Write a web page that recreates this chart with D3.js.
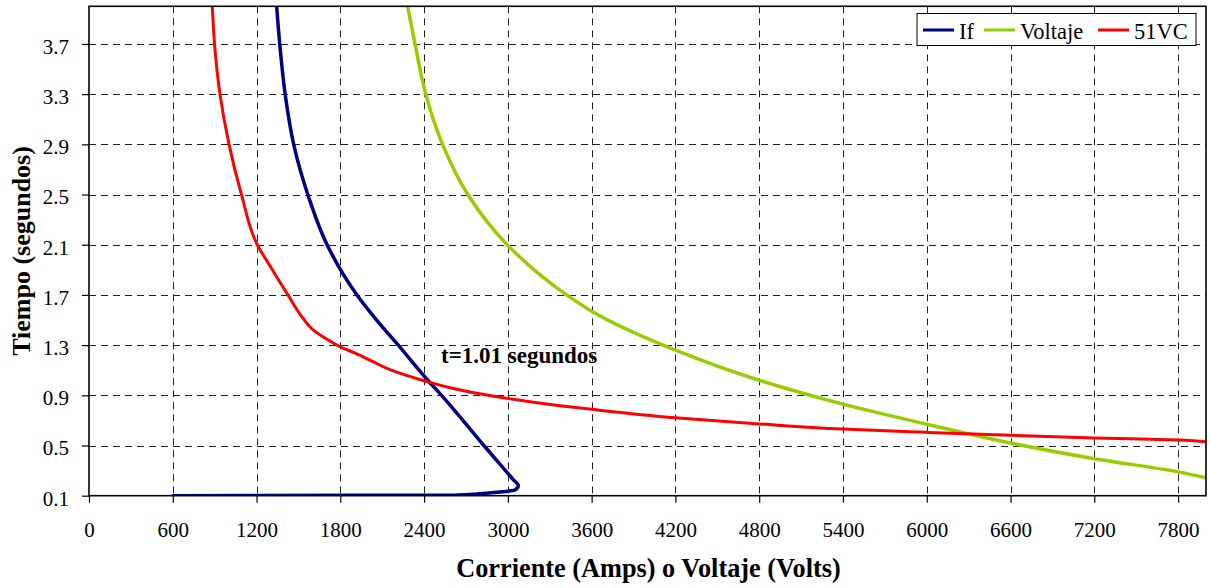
<!DOCTYPE html>
<html><head><meta charset="utf-8">
<script src="https://cdn.jsdelivr.net/npm/d3@7"></script>
<style>
body{margin:0;background:#fff}
svg{display:block}
text{font-family:"Liberation Serif","Times New Roman",serif;fill:#000}
</style>
</head><body>
<svg id="chart" width="1210" height="588"></svg>
<script>
// ---- data ----
const xTicks = [0,600,1200,1800,2400,3000,3600,4200,4800,5400,6000,6600,7200,7800];
const yTicks = [0.1,0.5,0.9,1.3,1.7,2.1,2.5,2.9,3.3,3.7];
const seriesNames = ["If","Voltaje","51VC"];
const seriesColors = ["#000080","#99CC00","#FF0000"];

const ifCurrent = [1344,1366,1405,1466,1567,1705,1919,2060,2215,2430,2525,2828,3037,3075,3050,2920,2777,2633,600];
const ifTime    = [4.0,3.7,3.3,2.9,2.5,2.1,1.7,1.5,1.3,1.016,0.9,0.5,0.23,0.18,0.145,0.127,0.114,0.105,0.1];

const voltValue = [2282,2335,2412,2532,2713,2995,3421,3600,4200,4800,5400,6000,6600,7200,7800,8000];
const voltTime  = [4.0,3.7,3.3,2.9,2.5,2.1,1.7,1.57,1.26,1.02,0.83,0.67,0.52,0.395,0.29,0.243];

const relCurrent = [883,899,938,1003,1092,1205,1300,1425,1525,1607,1730,1810,1910,2030,2165,2406,2657,2991,3373,3600,4200,4800,5400,6000,6600,7200,7800,8000];
const relTime    = [4.0,3.7,3.3,2.9,2.5,2.1,1.925,1.7,1.526,1.42,1.33,1.28,1.235,1.17,1.10,1.014,0.942,0.876,0.817,0.788,0.721,0.672,0.631,0.605,0.581,0.56,0.544,0.53];

const annotationText = "t=1.01 segundos";
const xTitle = "Corriente (Amps) o Voltaje (Volts)";
const yTitle = "Tiempo (segundos)";

// ---- layout ----
const L = 89, R = 1206, T = 6.3, B = 495.7;
const svg = d3.select("#chart");
const x = d3.scaleLinear().domain([0,8000]).range([L,R]);
const y = d3.scaleLinear().domain([0.1,4.0]).range([B,T]);

// gridlines
const grid = svg.append("g").attr("stroke","#222").attr("stroke-width",1).attr("stroke-dasharray","7,5");
grid.selectAll("line.v").data(xTicks.filter(d=>d>0)).join("line")
  .attr("x1",d=>Math.round(x(d))+0.5).attr("x2",d=>Math.round(x(d))+0.5)
  .attr("y1",T).attr("y2",B);
grid.selectAll("line.h").data(yTicks.filter(d=>d>0.1)).join("line")
  .attr("y1",d=>Math.round(y(d))+0.5).attr("y2",d=>Math.round(y(d))+0.5)
  .attr("x1",L).attr("x2",R);

// axes
const yAxis = svg.append("g").attr("transform",`translate(${L},0)`)
  .call(d3.axisLeft(y).tickValues(yTicks).tickSize(7).tickPadding(13).tickFormat(d3.format(".1f")));
const xAxis = svg.append("g").attr("transform",`translate(0,${B})`)
  .call(d3.axisBottom(x).tickValues(xTicks).tickSize(7).tickPadding(19).tickFormat(d3.format("d")));
[xAxis,yAxis].forEach(g=>{
  g.select(".domain").remove();
  g.selectAll(".tick line").attr("stroke","#000").attr("stroke-width",1.2);
  g.selectAll(".tick text").attr("font-family","Liberation Serif").attr("font-size",21).attr("fill","#000");
});
yAxis.selectAll(".tick text").attr("dy","0.45em");

// series
svg.append("clipPath").attr("id","clip").append("rect")
  .attr("x",L).attr("y",T).attr("width",R-L).attr("height",B-T);
const line = d3.line().x(d=>x(d[0])).y(d=>y(d[1])).curve(d3.curveMonotoneY);
const series = [
  {pts:d3.zip(ifCurrent,ifTime), w:3.5},
  {pts:d3.zip(voltValue,voltTime), w:3.5},
  {pts:d3.zip(relCurrent,relTime), w:3}
];
const lg = svg.append("g").attr("clip-path","url(#clip)");
series.forEach((s,i)=>{
  lg.append("path").attr("d",line(s.pts)).attr("fill","none")
    .attr("stroke",seriesColors[i]).attr("stroke-width",s.w)
    .attr("stroke-linejoin","round").attr("stroke-linecap","round");
});

// frame
svg.append("rect").attr("x",L).attr("y",T).attr("width",R-L).attr("height",B-T)
  .attr("fill","none").attr("stroke","#000").attr("stroke-width",1.6);

// annotation
svg.append("text").attr("x",441).attr("y",362.5).attr("font-size",23).attr("font-weight","bold")
  .text(annotationText);

// titles
svg.append("text").attr("x",(455+842)/2).attr("y",577).attr("text-anchor","middle")
  .attr("font-size",26.3).attr("font-weight","bold").text(xTitle);
svg.append("text").attr("transform",`translate(30,${(T+B)/2}) rotate(-90)`).attr("text-anchor","middle")
  .attr("font-size",26).attr("font-weight","bold").text(yTitle);

// legend
const leg = svg.append("g");
leg.append("rect").attr("x",917).attr("y",13.5).attr("width",279).attr("height",32)
  .attr("fill","#fff").attr("stroke","#000").attr("stroke-width",1);
const legItems = [{lx:923,tx:959},{lx:984,tx:1020},{lx:1098,tx:1134}];
seriesNames.forEach((n,i)=>{
  leg.append("line").attr("x1",legItems[i].lx).attr("x2",legItems[i].lx+31).attr("y1",30).attr("y2",30)
    .attr("stroke",seriesColors[i]).attr("stroke-width",3);
  leg.append("text").attr("x",legItems[i].tx).attr("y",38.5).attr("font-size",22.5).text(n);
});
</script>
</body></html>
